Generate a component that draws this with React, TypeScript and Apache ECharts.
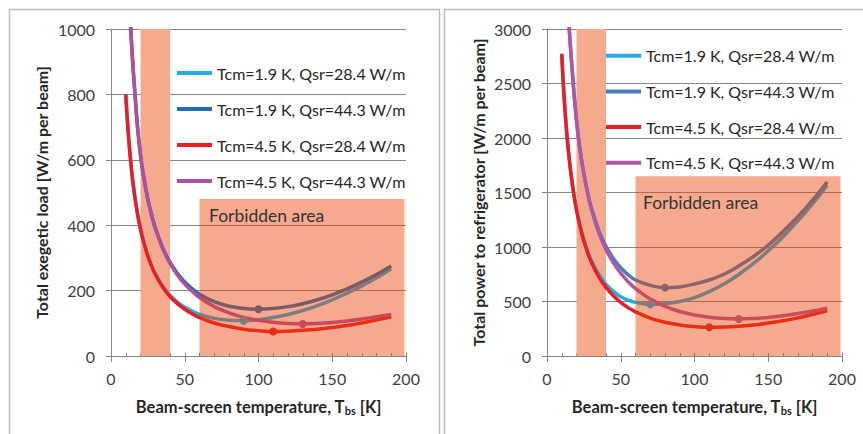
import { useEffect, useRef } from 'react';
import * as echarts from 'echarts';

// Beam-screen temperature samples [K]
const temps = [10, 11, 12, 13, 14, 15, 16, 18, 20, 22, 25, 28, 30, 35, 40, 45, 50, 55, 60, 70, 80, 90, 100, 110, 120, 130, 140, 150, 160, 170, 180, 190];

// Left chart: total exegetic load [W/m per beam]
const exLightBlue = [800, 728, 665, 612, 566, 526, 492, 435, 389, 352, 306, 271, 252, 214, 186, 165, 149, 137, 127.5, 115, 109.5, 108, 111, 117.5, 127, 139, 154, 172, 192, 214, 239, 267];
const exDarkBlue = [1330, 1215, 1115, 1030, 952, 880, 818, 700, 615, 552, 479, 424, 393, 331, 287, 253, 226.5, 206, 189, 166, 152, 145.5, 143, 145.5, 151, 160, 172, 187, 205, 226, 249, 275];
const exRed = [800, 728, 665, 612, 566, 526, 492, 434, 388, 351, 305, 270, 250, 211, 182, 160, 143, 129, 117, 101, 90, 82, 77.5, 75, 76, 78.5, 82, 87, 93, 101, 110, 120];
const exMagenta = [1330, 1215, 1114, 1029, 951, 879, 817, 699, 614, 551, 478, 421, 390, 329, 283, 248, 220, 198, 179, 151, 132, 118, 109, 103, 99.5, 98, 99.5, 102.5, 107, 113, 120, 127];

// Right chart: total power to refrigerator [W/m per beam]
const pwLightBlue = [2774, 2514, 2297, 2113, 1956, 1820, 1701, 1503, 1345, 1217, 1064, 945, 879, 752, 660, 593, 544, 512, 492, 474, 480, 500, 535, 590, 660, 748, 849, 965, 1095, 1237, 1395, 1568];
const pwDarkBlue = [4500, 4100, 3762, 3473, 3223, 3013, 2823, 2465, 2166, 1932, 1676, 1474, 1365, 1156, 1007, 895, 810, 745, 697, 648, 627, 634, 660, 697, 750, 825, 913, 1018, 1141, 1277, 1430, 1598];
const pwRed = [2770, 2512, 2295, 2111, 1954, 1817, 1698, 1498, 1339, 1209, 1054, 932, 864, 729, 629, 553, 492, 444, 405, 348, 309, 285, 270, 263, 266, 273, 285, 302, 324, 350, 381, 414];
const pwMagenta = [4500, 4100, 3760, 3470, 3220, 3010, 2820, 2460, 2160, 1925, 1665, 1460, 1350, 1133, 976, 855, 759, 681, 618, 522, 455, 408, 376, 356, 344, 340, 344, 354, 370, 390, 413, 438];

const seriesNames = [
  'Tcm=1.9 K, Qsr=28.4 W/m',
  'Tcm=1.9 K, Qsr=44.3 W/m',
  'Tcm=4.5 K, Qsr=28.4 W/m',
  'Tcm=4.5 K, Qsr=44.3 W/m',
];

// Shaded bands: [xFrom, xTo, yFrom, yTo]
const bandLeft = [[20, 40, 0, 1000]];
const bandRight = [[20, 40, 0, 3000]];
const forbiddenLeft = [[60, 199, 0, 480]];
const forbiddenRight = [[60, 199, 0, 1650]];

const xTicks = { min: 0, max: 200, interval: 50 };
const yLeft = { min: 0, max: 1000, interval: 200 };
const yRight = { min: 0, max: 3000, interval: 500 };

const FONT = 'Lato';
const GRID_COLOR = '#868686';
const leftColors = ['#29ABE2', '#1F6DB2', '#ED1C24', '#B04F9E'];
const rightColors = ['#29ABE2', '#4A7EBB', '#ED1C24', '#B355A5'];

function rectRender(fill: string) {
  return (params: any, api: any) => {
    const a = api.coord([api.value(0), api.value(3)]);
    const b = api.coord([api.value(1), api.value(2)]);
    return {
      type: 'rect',
      shape: { x: a[0], y: a[1], width: b[0] - a[0], height: b[1] - a[1] },
      style: { fill },
    };
  };
}

function lineSeries(prefix: string, idx: number, values: number[], color: string, gridIdx: number) {
  return {
    type: 'line',
    name: prefix + seriesNames[idx],
    xAxisIndex: gridIdx,
    yAxisIndex: gridIdx,
    z: 2,
    data: temps.map((t, i) => [t, values[i]]),
    symbol: 'none',
    smooth: 0.4,
    clip: true,
    lineStyle: { color, width: 3.5 },
    itemStyle: { color },
    markPoint: {
      symbol: 'circle',
      symbolSize: 8,
      silent: true,
      label: { show: false },
      itemStyle: { color },
      data: [{ type: 'min' }],
    },
  };
}

function xAxisMain(gridIndex: number) {
  return {
    gridIndex,
    type: 'value',
    ...xTicks,
    name: 'Beam-screen temperature, T{sub|bs} [K]',
    nameLocation: 'middle',
    nameGap: 41,
    nameTextStyle: {
      fontFamily: FONT,
      fontWeight: 'bold',
      fontSize: 16.5,
      color: '#262626',
      lineHeight: 19,
      rich: {
        sub: { fontFamily: FONT, fontWeight: 'bold', fontSize: 11, lineHeight: 11, verticalAlign: 'bottom', color: '#262626' },
      },
    },
    axisLine: { show: true, lineStyle: { color: GRID_COLOR, width: 1 } },
    axisTick: { show: true, length: 6, lineStyle: { color: GRID_COLOR } },
    splitLine: { show: false },
    axisLabel: { fontFamily: FONT, fontSize: 16, color: '#404040', margin: 14, formatter: (v: number) => String(v) },
  };
}

function xAxisMinor(gridIndex: number) {
  return {
    gridIndex,
    type: 'value',
    min: 0,
    max: 200,
    interval: 10,
    position: 'bottom',
    axisLine: { show: false },
    axisLabel: { show: false },
    splitLine: { show: false },
    axisTick: { show: true, inside: true, length: 3, lineStyle: { color: GRID_COLOR } },
  };
}

function yAxis(gridIndex: number, range: any, name: string, nameGap: number) {
  return {
    gridIndex,
    type: 'value',
    ...range,
    name,
    nameLocation: 'middle',
    nameGap,
    nameTextStyle: { fontFamily: FONT, fontWeight: 'bold', fontSize: 16, color: '#262626' },
    axisLine: { show: true, lineStyle: { color: GRID_COLOR, width: 1 } },
    axisTick: { show: true, length: 5, lineStyle: { color: GRID_COLOR } },
    splitLine: { show: true, lineStyle: { color: GRID_COLOR, width: 1 } },
    axisLabel: { fontFamily: FONT, fontSize: 16, color: '#404040', margin: 16, formatter: (v: number) => String(v) },
  };
}

function legend(prefix: string, left: number, top: number, gap: number) {
  return {
    orient: 'vertical',
    left,
    top,
    padding: 0,
    icon: 'rect',
    itemWidth: 35,
    itemHeight: 4,
    itemGap: gap,
    selectedMode: false,
    data: seriesNames.map((n) => prefix + n),
    formatter: (n: string) => n.slice(prefix.length),
    textStyle: { fontFamily: FONT, fontSize: 16, color: '#262626', lineHeight: 18 },
  };
}

export default function App() {
  const ref = useRef<HTMLDivElement>(null);
  useEffect(() => {
    if (!ref.current) return;
    const chart = echarts.init(ref.current, undefined, { renderer: 'svg' });
    const leftVals = [exLightBlue, exDarkBlue, exRed, exMagenta];
    const rightVals = [pwLightBlue, pwDarkBlue, pwRed, pwMagenta];
    const overlay = 'rgba(233,66,6,0.45)';
    const bandFill = '#F5AA8E';
    chart.setOption({
      animation: false,
      backgroundColor: '#ffffff',
      grid: [
        { left: 111, top: 29, width: 295, height: 327 },
        { left: 547, top: 29, width: 295, height: 327 },
      ],
      xAxis: [xAxisMain(0), xAxisMain(1), xAxisMinor(0), xAxisMinor(1)],
      yAxis: [
        yAxis(0, yLeft, 'Total exegetic load [W/m per beam]', 62),
        yAxis(1, yRight, 'Total power to refrigerator [W/m per beam]', 61),
      ],
      legend: [legend('L:', 177, 64, 18), legend('R:', 606, 46.7, 17.7)],
      series: [
        { type: 'custom', xAxisIndex: 0, yAxisIndex: 0, z: 1, silent: true, data: bandLeft, encode: { x: [0, 1], y: [2, 3] }, renderItem: rectRender(bandFill) },
        { type: 'custom', xAxisIndex: 1, yAxisIndex: 1, z: 1, silent: true, data: bandRight, encode: { x: [0, 1], y: [2, 3] }, renderItem: rectRender(bandFill) },
        ...leftVals.map((v, i) => lineSeries('L:', i, v, leftColors[i], 0)),
        ...rightVals.map((v, i) => lineSeries('R:', i, v, rightColors[i], 1)),
        { type: 'custom', xAxisIndex: 0, yAxisIndex: 0, z: 6, silent: true, data: forbiddenLeft, encode: { x: [0, 1], y: [2, 3] }, renderItem: rectRender(overlay) },
        { type: 'custom', xAxisIndex: 1, yAxisIndex: 1, z: 6, silent: true, data: forbiddenRight, encode: { x: [0, 1], y: [2, 3] }, renderItem: rectRender(overlay) },
      ],
      graphic: [
        { type: 'rect', z: 0, silent: true, shape: { x: 9.5, y: 9.5, width: 430, height: 440 }, style: { fill: 'none', stroke: '#BDBDBD', lineWidth: 1.5 } },
        { type: 'rect', z: 0, silent: true, shape: { x: 444.5, y: 9.5, width: 430, height: 440 }, style: { fill: 'none', stroke: '#BDBDBD', lineWidth: 1.5 } },
        { type: 'text', z: 20, silent: true, x: 209, y: 215, style: { text: 'Forbidden area', fontFamily: FONT, fontSize: 17.5, fill: '#333333', verticalAlign: 'middle', align: 'left' } },
        { type: 'text', z: 20, silent: true, x: 643, y: 202, style: { text: 'Forbidden area', fontFamily: FONT, fontSize: 17.5, fill: '#333333', verticalAlign: 'middle', align: 'left' } },
      ],
    });
    return () => chart.dispose();
  }, []);
  return <div ref={ref} style={{ position: 'fixed', left: 0, top: 0, width: 863, height: 434 }} />;
}
